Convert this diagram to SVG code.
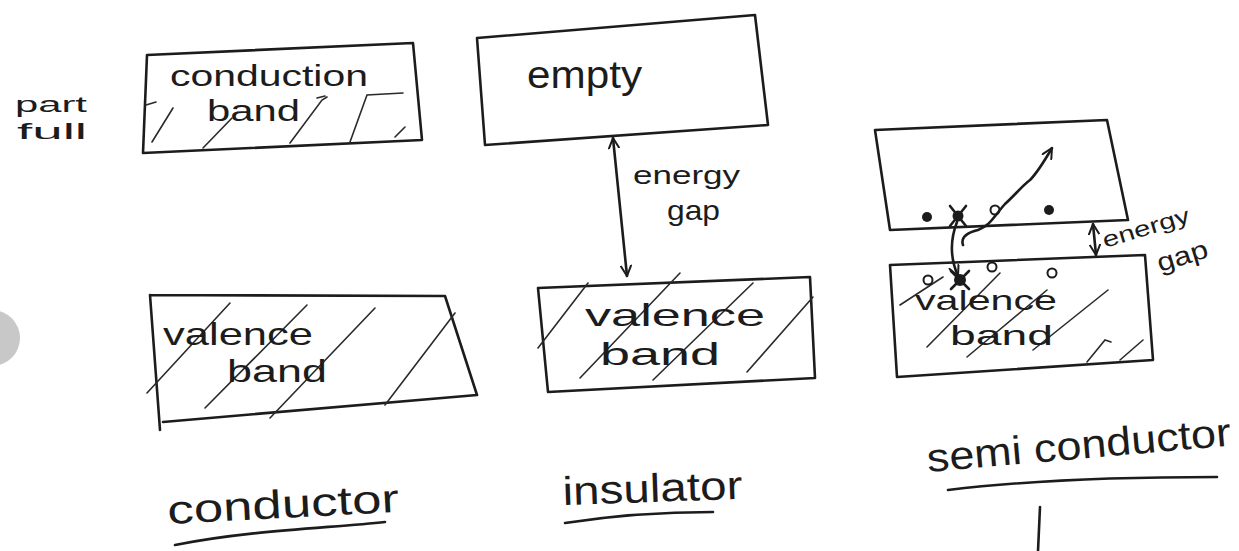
<svg xmlns="http://www.w3.org/2000/svg" width="1239" height="551" viewBox="0 0 1239 551">
<style>
.b{fill:none;stroke:#1c1c1c;stroke-width:2.6;stroke-linejoin:round;stroke-linecap:round}
.h{fill:none;stroke:#2a2a2a;stroke-width:1.6;stroke-linecap:round}
.t{font-family:"Liberation Sans",Arial,sans-serif;fill:#1c1c1c}
.dot{fill:#1c1c1c}
.oc{fill:#fff;stroke:#1c1c1c;stroke-width:2}
</style>
<defs>
<marker id="ah" viewBox="0 0 12 12" refX="11" refY="6" markerWidth="12" markerHeight="12" markerUnits="userSpaceOnUse" orient="auto-start-reverse">
<path d="M1,1 L11,6 L1,11" fill="none" stroke="#1c1c1c" stroke-width="2" stroke-linecap="round"/>
</marker>
</defs>
<rect width="1239" height="551" fill="#fff"/>
<circle cx="-8" cy="338" r="28" fill="#c8c8c8"/>

<g id="part-full">
<text class="t" x="15" y="112" font-size="22" textLength="72" lengthAdjust="spacingAndGlyphs">part</text>
<text class="t" x="17" y="139" font-size="22" textLength="70" lengthAdjust="spacingAndGlyphs">full</text>
</g>

<g id="conduction-band">
<path class="b" d="M147,55 L413,43 L422,140 L143,153 Z"/>
<path class="h" d="M146,105 L156,102 M152,142 L173,108 M203,148 L232,118 M290,143 L322,100 L327,97 M317,98 L325,96 M350,142 L367,95 L403,93 M395,137 L405,127"/>
<text class="t" x="170" y="86" font-size="30" textLength="198" lengthAdjust="spacingAndGlyphs">conduction</text>
<text class="t" x="207" y="121" font-size="30" textLength="93" lengthAdjust="spacingAndGlyphs">band</text>
</g>

<g id="conductor-valence-band">
<path class="b" d="M150,295 L445,296 L477,395 L163,422 M150,295 L160,430"/>
<path class="h" d="M147,393 L230,303 M205,408 L307,305 M270,418 L375,308 M385,405 L455,313"/>
<text class="t" x="163" y="345" font-size="32" textLength="150" lengthAdjust="spacingAndGlyphs">valence</text>
<text class="t" x="227" y="382" font-size="32" textLength="100" lengthAdjust="spacingAndGlyphs">band</text>
</g>

<g id="empty-band">
<path class="b" d="M477,38 L755,15 L768,125 L485,145 Z"/>
<text class="t" x="527" y="88" font-size="38" textLength="115" lengthAdjust="spacingAndGlyphs">empty</text>
</g>

<g id="insulator-valence-band">
<path class="b" d="M538,288 L810,277 L815,378 L548,392 Z"/>
<path class="h" d="M538,348 L588,283 M580,378 L680,273 M653,380 L753,283 M747,372 L813,297"/>
<text class="t" x="585" y="326" font-size="32" textLength="180" lengthAdjust="spacingAndGlyphs">valence</text>
<text class="t" x="600" y="365" font-size="32" textLength="120" lengthAdjust="spacingAndGlyphs">band</text>
</g>

<g id="semi-conduction-band">
<path class="b" d="M875,130 L1107,120 L1128,220 L890,230 Z"/>
<circle class="dot" cx="927" cy="217" r="5"/>
<circle class="dot" cx="958" cy="216" r="5.5"/>
<path class="b" d="M950,206 L966,226 M966,206 L950,226"/>
<circle class="oc" cx="995" cy="210" r="4.5"/>
<circle class="dot" cx="1049" cy="210" r="5"/>
</g>

<g id="semi-valence-band">
<path class="b" d="M890,265 L1145,255 L1153,360 L897,377 Z"/>
<path class="h" d="M900,305 L943,277 M927,347 L1000,273 M967,357 L1047,290 M1033,350 L1108,290 M1087,362 L1105,340 L1111,342 M1120,360 L1143,340"/>
<circle class="oc" cx="928" cy="280" r="4.5"/>
<circle class="oc" cx="992" cy="267" r="4.5"/>
<circle class="oc" cx="1052" cy="273" r="4.5"/>
<circle class="dot" cx="960" cy="280" r="6"/>
<path class="b" d="M951,271 L969,289 M969,271 L951,289"/>
<text class="t" x="915" y="310" font-size="28" textLength="142" lengthAdjust="spacingAndGlyphs">valence</text>
<text class="t" x="950" y="345" font-size="28" textLength="103" lengthAdjust="spacingAndGlyphs">band</text>
</g>

<g id="connectors">
<path class="b" d="M613,138 L627,276" marker-start="url(#ah)" marker-end="url(#ah)"/>
<path class="b" d="M957,222 C950,240 950,258 958,276" marker-end="url(#ah)"/>
<path class="b" d="M963,245 C960,236 970,232 978,230 C990,226 995,215 1005,204 C1015,195 1022,186 1030,180 C1038,172 1045,160 1052,148" marker-end="url(#ah)"/>
<path class="b" d="M1093,224 L1096,255" marker-start="url(#ah)" marker-end="url(#ah)"/>
</g>

<g id="gap-labels">
<text class="t" x="633" y="184" font-size="26" textLength="107" lengthAdjust="spacingAndGlyphs">energy</text>
<text class="t" x="667" y="220" font-size="28" textLength="53" lengthAdjust="spacingAndGlyphs">gap</text>
<text class="t" font-size="22" textLength="90" lengthAdjust="spacingAndGlyphs" transform="translate(1105,248) rotate(-17)">energy</text>
<text class="t" font-size="26" textLength="52" lengthAdjust="spacingAndGlyphs" transform="translate(1160,272) rotate(-17)">gap</text>
</g>

<g id="label-conductor">
<text class="t" font-size="40" textLength="232" lengthAdjust="spacingAndGlyphs" transform="translate(168,524) rotate(-3)">conductor</text>
<path class="b" d="M175,545 C250,530 330,528 385,522"/>
</g>

<g id="label-insulator">
<text class="t" font-size="40" textLength="180" lengthAdjust="spacingAndGlyphs" transform="translate(563,505) rotate(-2)">insulator</text>
<path class="b" d="M565,523 C610,516 660,512 713,512"/>
</g>

<g id="label-semiconductor">
<text class="t" font-size="40" textLength="305" lengthAdjust="spacingAndGlyphs" transform="translate(928,472) rotate(-5)">semi conductor</text>
<path class="b" d="M948,490 C1030,480 1130,477 1217,477"/>
<path class="b" d="M1040,507 L1038,551"/>
</g>
</svg>
